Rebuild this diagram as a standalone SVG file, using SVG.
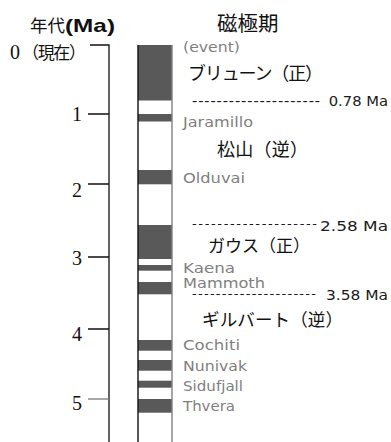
<svg xmlns="http://www.w3.org/2000/svg" width="391" height="442" viewBox="0 0 391 442">
<style>
.ax{stroke:#111;stroke-width:1.3;fill:none}
.bar{fill:#595959}
.num{font-family:"Liberation Serif","Times New Roman",serif;font-size:20px;fill:#111;text-anchor:middle}
.jp{font-family:"Noto Sans CJK JP","Noto Sans",sans-serif;fill:#111}
.ev{font-family:"DejaVu Sans","Noto Sans",sans-serif;font-size:14.5px;fill:#7f7f7f}
.ma{font-family:"DejaVu Sans","Noto Sans",sans-serif;font-size:14.5px;fill:#1a1a1a}
.dash{font-size:13px}
</style>
<rect width="391" height="442" fill="#fff"/>
<g id="title">
<text x="30" y="32" class="jp" font-size="17.5">年代<tspan font-family="Liberation Sans,Arial,sans-serif" font-weight="bold" font-size="19" textLength="50" lengthAdjust="spacingAndGlyphs">(Ma)</tspan></text>
<text x="217" y="31" class="jp" font-size="20.5">磁極期</text>
</g>
<g id="axis">
<path class="ax" d="M90 45H109V442"/>
<path class="ax" d="M88 114H109M88 184H109M88 257H109M88 329H109"/>
<path d="M88 399H109" stroke="#777" stroke-width="1.3"/>
<text x="10" y="59" class="num" style="text-anchor:start">0<tspan class="jp" font-size="17" dx="2" textLength="64">（現在）</tspan></text>
<text x="77" y="121" class="num">1</text>
<text x="77" y="197" class="num">2</text>
<text x="77" y="265" class="num">3</text>
<text x="77" y="341" class="num">4</text>
<text x="77" y="410" class="num">5</text>
</g>
<g id="column">
<rect class="bar" x="138" y="45" width="34" height="55.5"/>
<rect class="bar" x="138" y="114" width="34" height="7.5"/>
<rect class="bar" x="138" y="170" width="34" height="14.3"/>
<rect class="bar" x="138" y="225" width="34" height="34"/>
<rect class="bar" x="138" y="265" width="34" height="5.7"/>
<rect class="bar" x="138" y="282" width="34" height="12.3"/>
<rect class="bar" x="138" y="340" width="34" height="10.7"/>
<rect class="bar" x="138" y="360" width="34" height="10.7"/>
<rect class="bar" x="138" y="380.7" width="34" height="7"/>
<rect class="bar" x="138" y="399" width="34" height="13.7"/>
<path d="M138 45V442" stroke="#111" stroke-width="1.4"/>
<path d="M172 45V442" stroke="#808080" stroke-width="1.4"/>
</g>
<g id="events">
<text x="183" y="51.5" class="ev" textLength="57" lengthAdjust="spacingAndGlyphs">(event)</text>
<text x="183" y="127" class="ev" textLength="70" lengthAdjust="spacingAndGlyphs">Jaramillo</text>
<text x="183" y="182.5" class="ev" textLength="62" lengthAdjust="spacingAndGlyphs">Olduvai</text>
<text x="183" y="273" class="ev" textLength="52" lengthAdjust="spacingAndGlyphs">Kaena</text>
<text x="183" y="287.5" class="ev" textLength="82" lengthAdjust="spacingAndGlyphs">Mammoth</text>
<text x="183" y="350" class="ev" textLength="57" lengthAdjust="spacingAndGlyphs">Cochiti</text>
<text x="183" y="370.5" class="ev" textLength="64" lengthAdjust="spacingAndGlyphs">Nunivak</text>
<text x="183" y="390.5" class="ev" textLength="60" lengthAdjust="spacingAndGlyphs">Sidufjall</text>
<text x="183" y="410.5" class="ev" textLength="52" lengthAdjust="spacingAndGlyphs">Thvera</text>
</g>
<g id="chrons">
<text x="188" y="80" class="jp" font-size="18" textLength="135">ブリューン（正）</text>
<text x="217" y="156" class="jp" font-size="18" textLength="91">松山（逆）</text>
<text x="208" y="252" class="jp" font-size="17" textLength="102">ガウス（正）</text>
<text x="202" y="326" class="jp" font-size="17.5" textLength="141">ギルバート（逆）</text>
</g>
<g id="boundaries">
<text y="106" class="ma"><tspan x="192" textLength="128">---------------------</tspan><tspan x="324" textLength="64" lengthAdjust="spacingAndGlyphs"> 0.78 Ma</tspan></text>
<text y="231" class="ma"><tspan x="192" dy="-3" class="dash" textLength="125">--------------------</tspan><tspan x="320" dy="3" textLength="68" lengthAdjust="spacingAndGlyphs">2.58 Ma</tspan></text>
<text y="300" class="ma"><tspan x="192" dy="-2" class="dash" textLength="124">---------------------</tspan><tspan x="321" dy="2" textLength="67" lengthAdjust="spacingAndGlyphs"> 3.58 Ma</tspan></text>
</g>
</svg>
